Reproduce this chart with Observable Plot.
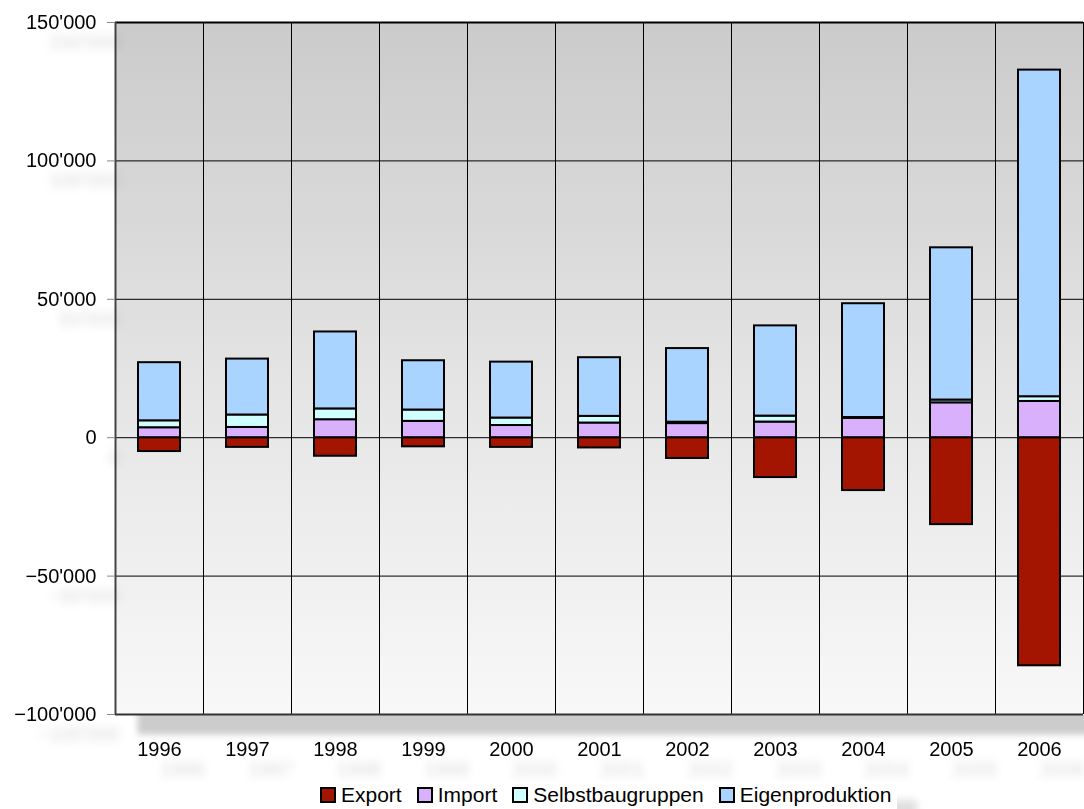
<!DOCTYPE html>
<html>
<head>
<meta charset="utf-8">
<script src="https://cdn.jsdelivr.net/npm/d3@7"></script>
<script src="https://cdn.jsdelivr.net/npm/@observablehq/plot@0.6"></script>
<style>
  html, body { margin: 0; padding: 0; background: #fff; width: 1084px; height: 809px; overflow: hidden; }
  body { font-family: "Liberation Sans", Arial, sans-serif; position: relative; }
  #chart svg { display: block; overflow: visible; }
  #legend { position: absolute; top: 782px; left: 319px; display: flex; align-items: center; font-size: 21px; color: #000; background: #fff; padding: 1px 6px 6px 1px; box-shadow: 20px 18px 8px rgba(0,0,0,0.13); }
  .item { display: flex; align-items: center; margin-right: 15px; }
  .item:last-child { margin-right: 0; }
  .sw { width: 12px; height: 12px; border: 2px solid #000; margin-right: 5px; box-sizing: content-box; }
</style>
</head>
<body>
<div id="chart"></div>
<div id="legend"></div>
<script>
const years = ["1996","1997","1998","1999","2000","2001","2002","2003","2004","2005","2006"];
const seriesNames = ["Export","Import","Selbstbaugruppen","Eigenproduktion"];
const seriesColors = ["#a31500","#d8b0fc","#d0ffff","#a8d4ff"];
const exportVals = [-5000,-3500,-6700,-3300,-3500,-3700,-7500,-14400,-19100,-31400,-82400];
const importVals = [3600,3700,6500,5900,4400,5300,5100,5650,7000,12600,13100];
const selbstVals = [2500,4500,3900,4100,2700,2400,500,2150,300,1000,1700];
const eigenVals = [21000,20200,27800,17800,20200,21200,26600,32600,41100,55000,118000];
const yTicks = [-100000,-50000,0,50000,100000,150000];
const gridTicks = [-50000,0,50000,100000];

const seriesValues = [exportVals, importVals, selbstVals, eigenVals];
const data = [];
years.forEach((y, i) => {
  seriesNames.forEach((s, k) => data.push({year: y, series: s, value: seriesValues[k][i]}));
});

const fmt = d => d3.format(",")(d).replace(/,/g, "'");

const W = 1084, H = 770;
const chart = Plot.plot({
  width: W,
  height: H,
  marginLeft: 115,
  marginRight: 1,
  marginTop: 22,
  marginBottom: 56,
  style: {fontFamily: "'Liberation Sans', Arial, sans-serif", fontSize: "20px", color: "#000", background: "transparent", overflow: "visible"},
  x: {domain: years, paddingInner: 0.52, paddingOuter: 0.26, label: null},
  y: {domain: [-100000, 150000], label: null},
  color: {domain: seriesNames, range: seriesColors},
  marks: [
    Plot.frame({fill: "url(#bg)", stroke: null}),
    Plot.ruleY(gridTicks, {stroke: "#000", strokeWidth: 1}),
    Plot.ruleX(years, {x: d => d, dx: 44, stroke: "#000", strokeWidth: 1}),
    Plot.ruleY([150000], {stroke: "#000", strokeWidth: 2}),
    Plot.ruleY([-100000], {stroke: "#333", strokeWidth: 2}),
    Plot.ruleX([years[0]], {x: d => d, dx: -44, stroke: "#444", strokeWidth: 2}),
    Plot.barY(data, {x: "year", y: "value", fill: "series", stroke: "#000", strokeWidth: 2, order: seriesNames}),
    Plot.axisY({ticks: yTicks, tickFormat: fmt, tickSize: 8, tickPadding: 11, stroke: "#888", fontSize: 20}),
    Plot.axisX({tickSize: 0, tickPadding: 27, fontSize: 20})
  ]
});

const ns = "http://www.w3.org/2000/svg";
const defs = document.createElementNS(ns, "defs");
defs.innerHTML = `
  <linearGradient id="bg" x1="0" y1="0" x2="0" y2="1">
    <stop offset="0" stop-color="#cbcbcb"/>
    <stop offset="0.6" stop-color="#e8e8e8"/>
    <stop offset="1" stop-color="#f8f8f8"/>
  </linearGradient>
  <filter id="sh" filterUnits="userSpaceOnUse" x="-200" y="-200" width="1600" height="1200">
    <feGaussianBlur in="SourceAlpha" stdDeviation="4"/>
    <feOffset dx="23" dy="20" result="ob"/>
    <feFlood flood-color="#000" flood-opacity="0.15"/>
    <feComposite in2="ob" operator="in" result="s"/>
    <feMerge><feMergeNode in="s"/><feMergeNode in="SourceGraphic"/></feMerge>
  </filter>
  <filter id="shf" filterUnits="userSpaceOnUse" x="-200" y="-200" width="1600" height="1200">
    <feGaussianBlur in="SourceAlpha" stdDeviation="3"/>
    <feOffset dx="22" dy="20" result="ob"/>
    <feFlood flood-color="#000" flood-opacity="0.2"/>
    <feComposite in2="ob" operator="in" result="s"/>
    <feMerge><feMergeNode in="s"/><feMergeNode in="SourceGraphic"/></feMerge>
  </filter>`;
chart.insertBefore(defs, chart.firstChild);
const fr = chart.querySelector('[aria-label="frame"]');
if (fr) fr.setAttribute("filter", "url(#shf)");
chart.querySelectorAll('[aria-label="y-axis tick label"], [aria-label="x-axis tick label"]').forEach(g => g.setAttribute("filter", "url(#sh)"));
document.getElementById("chart").appendChild(chart);

const legend = document.getElementById("legend");
seriesNames.forEach((s, k) => {
  const it = document.createElement("div");
  it.className = "item";
  const sw = document.createElement("div");
  sw.className = "sw";
  sw.style.background = seriesColors[k];
  const t = document.createElement("span");
  t.textContent = s;
  it.appendChild(sw); it.appendChild(t);
  legend.appendChild(it);
});
</script>
</body>
</html>
